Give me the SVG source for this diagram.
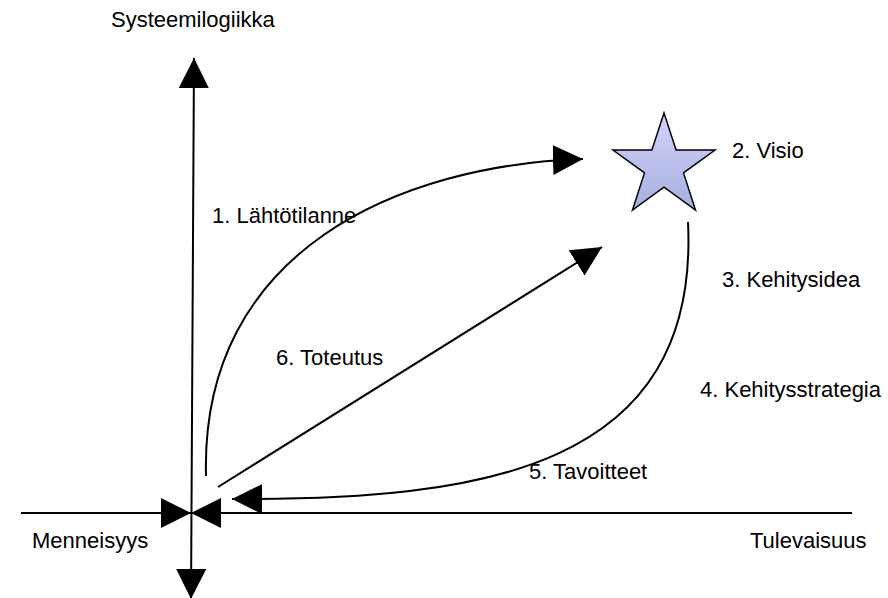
<svg xmlns="http://www.w3.org/2000/svg" width="888" height="598" viewBox="0 0 888 598">
<style>
text{font-family:"Liberation Sans",Arial,sans-serif;font-size:22px;fill:#000}
.ln{fill:none;stroke:#000;stroke-width:2}
</style>
<defs>
<marker id="ah" markerUnits="userSpaceOnUse" markerWidth="30" markerHeight="30" viewBox="0 0 28 28" refX="28" refY="14" orient="auto-start-reverse">
<path d="M0,0 L28,14 L0,28 z" fill="#000"/>
</marker>
<linearGradient id="sg" x1="0" y1="0" x2="0" y2="1">
<stop offset="0" stop-color="#d2d2fc"/>
<stop offset="1" stop-color="#a6b0dc"/>
</linearGradient>
</defs>
<rect width="888" height="598" fill="#fff"/>
<g id="connectors">
<line class="ln" x1="191" y1="599" x2="194" y2="58" marker-start="url(#ah)" marker-end="url(#ah)"/>
<line class="ln" x1="21" y1="513" x2="191" y2="513" marker-end="url(#ah)"/>
<line class="ln" x1="852" y1="513" x2="191" y2="513" marker-end="url(#ah)"/>
<path class="ln" d="M206,476 C200,250 400,165 583,159" marker-end="url(#ah)"/>
<line class="ln" x1="218" y1="487" x2="602" y2="247" marker-end="url(#ah)"/>
<path class="ln" d="M688,222 C700,470 480,500 232,499" marker-end="url(#ah)"/>
</g>
<g id="star">
<polygon points="664,113 676.1,150 715,150 683.5,172.9 695.5,210 664,187.1 632.5,210 644.5,172.9 613,150 651.9,150" fill="url(#sg)" stroke="#000" stroke-width="1.5" stroke-linejoin="miter"/>
</g>
<g id="labels">
<text x="111" y="27">Systeemilogiikka</text>
<text x="732" y="158">2. Visio</text>
<text x="212" y="223">1. Lähtötilanne</text>
<text x="722" y="287">3. Kehitysidea</text>
<text x="276" y="365">6. Toteutus</text>
<text x="700" y="397">4. Kehitysstrategia</text>
<text x="529" y="479">5. Tavoitteet</text>
<text x="32" y="548">Menneisyys</text>
<text x="750" y="548">Tulevaisuus</text>
</g>
</svg>
